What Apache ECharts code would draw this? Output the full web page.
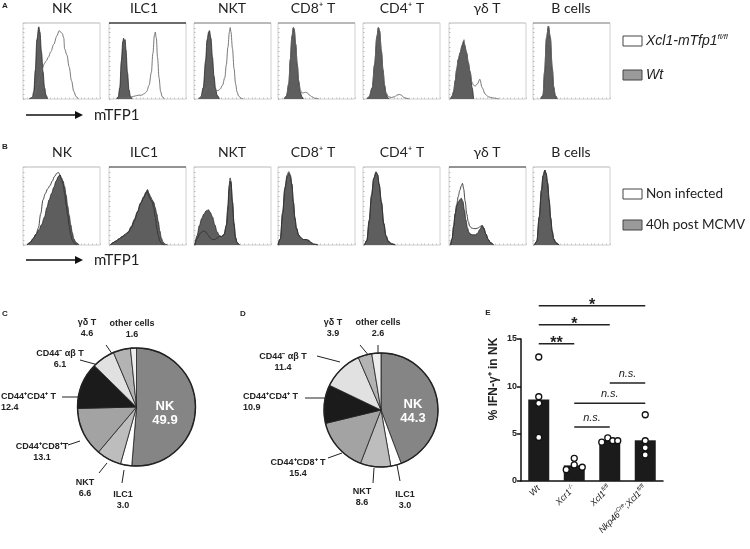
<!DOCTYPE html>
<html><head><meta charset="utf-8">
<script src="https://cdn.jsdelivr.net/npm/echarts@6/dist/echarts.min.js"></script>
<style>html,body{margin:0;padding:0;background:#fff}#c{width:750px;height:549px}</style>
</head><body><div id="c"></div>
<script>
// ---------------- DATA ----------------
const histTitles = ['NK', 'ILC1', 'NKT', 'CD8⁺ T', 'CD4⁺ T', 'γδ T', 'B cells'];

// Panel A : Wt (filled) and Xcl1-mTfp1 fl/fl (open); [mTFP1 %, % of max]
const aFillNK = [[8,0],[12,2],[14,10],[16,38],[18,78],[20.5,95],[22,88],[24,62],[26,36],[28,15],[30,5],[32,0]];
const aOpenNK = [[13,0],[16,6],[19,18],[22,30],[25,40],[28,47],[30,50],[33,55],[36,62],[40,72],[44,83],[47,90],[49,88],[51,86],[53,80],[54,66],[57,58],[60,42],[63,24],[66,10],[69,3],[72,0]];
const aFillILC1 = [[10,0],[12,3],[14,15],[16,50],[18,76],[19,80],[20,77],[21,78],[22,65],[24,35],[26,12],[28,3],[30,0]];
const aOpenILC1 = [[12,0],[16,1],[20,2],[26,2],[30,3],[34,4],[38,5],[42,5],[46,7],[49,10],[52,18],[55,35],[57,60],[59,84],[60,88],[61.5,80],[63,55],[65,28],[67,10],[69,3],[72,0]];
const aFillNKT = [[6,0],[9,3],[12,15],[15,50],[17,78],[19,88],[20,90],[22,80],[24,55],[26,30],[28,14],[30,5],[33,0]];
const aOpenNKT = [[7,0],[10,3],[13,8],[16,13],[19,17],[22,16],[25,13],[28,11],[31,11],[34,13],[37,18],[40,28],[42,45],[44,68],[46,88],[47,94],[48,88],[50,66],[52,40],[54,20],[56,9],[58,4],[61,1],[64,0]];
const aFillCD8 = [[8,0],[11,4],[14,20],[16,52],[18,82],[20,94],[21,92],[23,72],[25,45],[27,22],[29,9],[31,3],[33,0]];
const aOpenCD8 = [[8,0],[11,4],[14,20],[16,52],[18,82],[20,94],[21,92],[23,72],[25,46],[27,24],[29,12],[31,8],[33,8],[36,9],[38,8],[41,5],[44,3],[48,1],[53,0]];
const aFillCD4 = [[5,0],[8,3],[12,15],[15,45],[18,82],[20,94],[21.5,90],[24,62],[26,38],[28,18],[30,7],[32,2],[34,0]];
const aOpenCD4 = [[5,0],[8,3],[12,15],[15,45],[18,82],[20,94],[21.5,90],[24,62],[26,38],[28,18],[30,8],[33,3],[37,2],[41,3],[44,5],[47,6],[50,5],[53,2],[56,1],[60,0]];
const aFillGD = [[2,0],[4,4],[6,10],[8,24],[10,39],[12,52],[14.5,61],[17,70],[19,76],[20,72],[23,61],[25,48],[27.6,35],[30,15],[32,0]];
const aOpenGD = [[2,0],[4,4],[6,10],[8,24],[10,39],[12,52],[14.5,61],[17,71],[19.5,78],[21,67],[23,59],[25,48],[27,37],[30,22],[32,18],[34,17],[37,20],[40,26],[43,15],[47,6.5],[51,3],[56,1.5],[65,0]];
const aFillB = [[10,0],[13,5],[15,35],[17.5,80],[20,96],[22.5,80],[25,40],[27,15],[29,4],[31,0]];
const aOpenB = [[10,0],[13,5],[15,36],[17.5,80],[20,96],[22.5,82],[25,42],[27,16],[29,5],[32,0]];

// Panel B : 40h post MCMV (filled) and Non infected (open)
const bFillNK = [[5,0],[9,3],[13,8],[17,14],[21,20],[24,26],[28,36],[31,48],[34,58],[37,66],[40,74],[43,82],[46,88],[48,90],[50,86],[52,82],[54,75],[56,64],[58,50],[60,38],[62,26],[64,16],[66,8],[69,3],[73,0]];
const bOpenNK = [[5,0],[9,3],[13,8],[17,14],[20,22],[23,40],[26,58],[29,66],[32,72],[35,76],[38,82],[41,88],[44,92],[46,93],[48,90],[50,84],[52,78],[54,66],[56,52],[58,38],[60,24],[62,13],[64,6],[67,2],[70,0]];
const bFillILC1 = [[2,0],[5,3],[9,5],[13,8],[17,11],[21,13],[25,17],[29,24],[33,33],[37,43],[41,54],[45,62],[48,68],[50,71],[52,66],[54,62],[56,58],[58,55],[60,48],[62,40],[64,30],[66,18],[68,9],[70,4],[73,1],[76,0]];
const bOpenILC1 = [[2,0],[5,3],[9,5],[13,8],[17,10],[21,14],[25,16],[29,22],[33,31],[37,42],[41,53],[45,60],[48,66],[50,69],[52,62],[54,58],[56,55],[58,48],[60,36],[62,22],[64,12],[66,5],[69,1],[72,0]];
const bFillNKT = [[1,0],[4,12],[7,25],[10,34],[13,40],[16,44],[19,45],[21,42],[24,36],[27,26],[30,17],[33,12],[36,11],[39,14],[42,24],[44,45],[45.5,70],[47,82],[48,80],[50,55],[52,28],[54,10],[56,3],[59,0]];
const bOpenNKT = [[1,0],[4,8],[8,15],[12,18],[15,17],[18,13],[21,9],[24,7],[27,7],[30,9],[33,11],[36,11],[39,13],[42,26],[44,50],[45.5,76],[47,86],[48,82],[50,55],[52,26],[54,9],[56,3],[59,0]];
const bFillCD8 = [[0,0],[3,8],[6,40],[9,72],[12,88],[14,92],[16,88],[18,78],[20,55],[22,35],[24,22],[27,13],[30,9],[33,7],[37,7],[40,6],[43,3],[47,1],[52,0]];
const bOpenCD8 = [[0,0],[3,8],[6,42],[9,74],[12,90],[14,94],[16,90],[18,78],[20,55],[22,34],[24,21],[27,12],[30,9],[33,7],[37,7],[40,5],[43,3],[47,1],[52,0]];
const bFillCD4 = [[2,0],[5,6],[8,30],[11,62],[14,85],[17,93],[19,90],[21,78],[24,55],[27,28],[30,12],[33,5],[37,2],[42,0]];
const bOpenCD4 = [[2,0],[5,6],[8,32],[11,64],[14,86],[17,94],[19,90],[21,77],[24,54],[27,27],[30,11],[33,4],[37,1],[42,0]];
const bFillGD = [[2,0],[4,8],[6,24],[8,40],[10,50],[12,55],[14,58],[16,60],[18,56],[20,45],[22,32],[24,22],[26,16],[28,14],[31,13],[34,13],[37,15],[40,20],[43,25],[45,22],[48,14],[51,7],[54,3],[58,0]];
const bOpenGD = [[2,0],[4,8],[6,24],[8,40],[10,52],[12,62],[14,70],[16,76],[17.5,79],[19,72],[21,56],[23,40],[25,30],[27,24],[29,22],[32,21],[35,21],[38,22],[41,24],[43,25],[45,22],[48,14],[51,7],[54,3],[58,0]];
const bFillB = [[2,0],[5,5],[8,35],[11,70],[13,88],[15.5,96],[17,92],[19,80],[21,58],[23,35],[25,18],[27,8],[30,3],[34,0]];
const bOpenB = [[2,0],[5,5],[8,36],[11,71],[13,89],[15.5,96],[17,92],[19,79],[21,57],[23,34],[25,17],[27,7],[30,2],[34,0]];

// Panels C and D : pie charts (%)
const pieCats = ['NK', 'ILC1', 'NKT', 'CD44⁺CD8⁺T', 'CD44⁺CD4⁺ T', 'CD44⁻ αβ T', 'γδ T', 'other cells'];
const pieDCats = ['NK', 'ILC1', 'NKT', 'CD44⁺CD8⁺ T', 'CD44⁺CD4⁺ T', 'CD44⁻ αβ T', 'γδ T', 'other cells'];
const pieCValues = [49.9, 3.0, 6.6, 13.1, 12.4, 6.1, 4.6, 1.6];
const pieDValues = [44.3, 3.0, 8.6, 15.4, 10.9, 11.4, 3.9, 2.6];

// Panel E : % IFN-γ+ in NK
const eCats = ['Wt', 'Xcr1-/-', 'Xcl1fl/fl', 'Nkp46Cre;Xcl1fl/fl'];
const eCatLabels = ['{i|Wt}', '{i|Xcr1}{s|-/-}', '{i|Xcl1}{s|fl/fl}', '{i|Nkp46}{s|Cre}{i|;Xcl1}{s|fl/fl}'];
const eBars = [8.6, 1.65, 4.3, 4.3];
const ePtsWt = [13.1, 8.9, 8.2, 4.6];
const ePtsXcr1 = [1.2, 2.4, 1.7, 1.45];
const ePtsXcl1 = [4.1, 4.55, 4.25, 4.25];
const ePtsNkp = [7.0, 4.25, 3.5, 2.75];
const eTicks = [0, 5, 10, 15];
const brFrom = [0, 0, 0, 1, 1, 2];
const brTo = [1, 2, 3, 2, 3, 3];
const brY = [14.5, 16.5, 18.5, 5.7, 8.2, 10.35];
const brText = ['**', '*', '*', 'n.s.', 'n.s.', 'n.s.'];

// ---------------- LAYOUT / STYLE ----------------
const aFilled = [aFillNK, aFillILC1, aFillNKT, aFillCD8, aFillCD4, aFillGD, aFillB];
const aOpen = [aOpenNK, aOpenILC1, aOpenNKT, aOpenCD8, aOpenCD4, aOpenGD, aOpenB];
const bFilled = [bFillNK, bFillILC1, bFillNKT, bFillCD8, bFillCD4, bFillGD, bFillB];
const bOpen = [bOpenNK, bOpenILC1, bOpenNKT, bOpenCD8, bOpenCD4, bOpenGD, bOpenB];
const HX = [23, 109, 194, 278, 363, 449, 533], HW = 77;
const rowTop = [23, 167], rowH = [76, 78];
const titleX = [62, 144, 232, 313, 402, 487, 571];
const titleY = [8, 152];
const topCol = [['#d0d0d0','#444','#aaa','#aaa','#d0d0d0','#d0d0d0','#aaa'],
                ['#d0d0d0','#777','#d0d0d0','#d0d0d0','#d0d0d0','#777','#d0d0d0']];
const SANS = 'Liberation Sans, Arial, sans-serif';
const CAL = 'Lato, Carlito, sans-serif';

const grid = [], xAxis = [], yAxis = [], series = [], graphic = [];
[[aFilled, aOpen], [bFilled, bOpen]].forEach((pair, r) => {
  for (let i = 0; i < 7; i++) {
    const g = grid.length;
    grid.push({left: HX[i], top: rowTop[r], width: HW, height: rowH[r], show: true,
      borderColor: '#d0d0d0', borderWidth: 1, backgroundColor: '#fff'});
    xAxis.push({gridIndex: g, type: 'value', min: 0, max: 100, interval: 5,
      axisLine: {show: false}, axisLabel: {show: false}, splitLine: {show: false},
      axisTick: {show: true, inside: true, length: 1.5, lineStyle: {color: '#aaa', width: 0.6}}});
    yAxis.push({gridIndex: g, type: 'value', min: 0, max: 100, interval: 6.25,
      axisLine: {show: false}, axisLabel: {show: false}, splitLine: {show: false},
      axisTick: {show: true, inside: true, length: 1.5, lineStyle: {color: '#999', width: 0.6}}});
    series.push({type: 'line', xAxisIndex: g, yAxisIndex: g, data: pair[0][i], smooth: 0.35,
      smoothMonotone: 'x', symbol: 'none', silent: true, z: 2,
      lineStyle: {color: '#2a2a2a', width: 0.8}, areaStyle: {color: '#5e5e5e', opacity: 1}});
    series.push({type: 'line', xAxisIndex: g, yAxisIndex: g, data: pair[1][i], smooth: 0.35,
      smoothMonotone: 'x', symbol: 'none', silent: true, z: 3,
      lineStyle: {color: r === 0 ? '#6a6a6a' : '#333', width: 0.9}});
    graphic.push({type: 'line', z: 50, shape: {x1: HX[i], y1: rowTop[r], x2: HX[i] + HW, y2: rowTop[r]},
      style: {stroke: topCol[r][i], lineWidth: topCol[r][i] === '#d0d0d0' ? 1 : 1.6}});
    graphic.push({type: 'text', x: titleX[i], y: titleY[r],
      style: {text: histTitles[i], align: 'center', verticalAlign: 'middle',
        font: '14px ' + CAL, fill: '#222'}});
  }
});

// Panel E main grid (14) and bracket overlay grid (15)
grid.push({left: 521, top: 339, width: 142, height: 142});
xAxis.push({gridIndex: 14, type: 'category', data: eCats,
  axisLine: {lineStyle: {color: '#111', width: 1.5}},
  axisTick: {alignWithLabel: true, length: 4, lineStyle: {color: '#111', width: 1.5}},
  axisLabel: {rotate: 45, margin: 6, interval: 0, color: '#222',
    formatter: (v, idx) => eCatLabels[idx],
    rich: {i: {fontFamily: SANS, fontStyle: 'italic', fontSize: 9, lineHeight: 12, color: '#222'},
           s: {fontFamily: SANS, fontStyle: 'italic', fontSize: 6, verticalAlign: 'top', color: '#222'}}}});
yAxis.push({gridIndex: 14, type: 'value', min: eTicks[0], max: eTicks[eTicks.length - 1], interval: 5,
  axisLine: {show: true, lineStyle: {color: '#111', width: 1.5}},
  axisTick: {show: true, length: 4, lineStyle: {color: '#111', width: 1.5}},
  splitLine: {show: false},
  axisLabel: {fontFamily: SANS, fontSize: 9, fontWeight: 'bold', color: '#222', margin: 4}});
const ovH = 20 * 142 / 15;
grid.push({left: 521, top: 481 - ovH, width: 142, height: ovH});
xAxis.push({gridIndex: 15, type: 'category', data: eCats, show: false});
yAxis.push({gridIndex: 15, type: 'value', min: 0, max: 20, show: false});

series.push({type: 'bar', xAxisIndex: 14, yAxisIndex: 14, data: eBars, barWidth: 21,
  itemStyle: {color: '#1b1b1b'}, silent: true, z: 2});
const ePts = [ePtsWt, ePtsXcr1, ePtsXcl1, ePtsNkp];
const eJit = [[0, 0, 0, 0], [-8, 0, 0, 8], [-8, -2, 3, 8], [0, 0, 0, 0]];
const scatterData = [];
ePts.forEach((arr, ci) => arr.forEach((v, k) => scatterData.push({value: [ci, v], symbolOffset: [eJit[ci][k], 0]})));
series.push({type: 'scatter', xAxisIndex: 14, yAxisIndex: 14, data: scatterData, symbol: 'circle',
  symbolSize: 6, itemStyle: {color: '#fff', borderColor: '#111', borderWidth: 1.3, opacity: 1}, silent: true, z: 5});
series.push({type: 'custom', xAxisIndex: 15, yAxisIndex: 15, silent: true, z: 6,
  data: brFrom.map((f, i) => [f, brTo[i], brY[i], i]),
  encode: {x: [0, 1], y: 2},
  renderItem: (params, api) => {
    const p1 = api.coord([api.value(0), api.value(2)]);
    const p2 = api.coord([api.value(1), api.value(2)]);
    const t = brText[api.value(3)];
    const star = t !== 'n.s.';
    return {type: 'group', children: [
      {type: 'line', shape: {x1: p1[0], y1: p1[1], x2: p2[0], y2: p2[1]}, style: {stroke: '#222', lineWidth: 1.5}},
      {type: 'text', x: (p1[0] + p2[0]) / 2, y: p1[1] + (star ? 8 : -4),
        style: {text: t, align: 'center', verticalAlign: 'bottom',
          font: star ? 'bold 16px ' + SANS : 'italic 11px ' + SANS, fill: '#222'}}
    ]};
  }});

// Pies
const pieColors = ['#858585', '#ffffff', '#bdbdbd', '#a3a3a3', '#1b1b1b', '#e1e1e1', '#b3b3b3', '#ededed'];
const pieCLayout = [
  [165, 413, 'center'],
  [123, 500, 'center', [[122, 483], [124, 470]]],
  [85, 488, 'center', [[99, 473], [107, 463]]],
  [42, 452, 'center', [[68, 445], [80, 441]]],
  [1, 402, 'left', [[62, 397], [80, 397]]],
  [60, 359, 'center', [[80, 360], [102, 366]]],
  [87, 328, 'center', [[106, 345], [115, 358]]],
  [132, 329, 'center', [[132, 347], [132, 357]]]
];
const pieDLayout = [
  [413, 411, 'center'],
  [405, 500, 'center', [[400, 481], [397, 465]]],
  [362, 497, 'center', [[373, 483], [374, 468]]],
  [298, 468, 'center', [[328, 458], [342, 453]]],
  [243, 402, 'left', [[305, 398], [325, 398]]],
  [283, 362, 'center', [[317, 356], [340, 362]]],
  [333, 328, 'center', [[360, 345], [370, 357]]],
  [378, 328, 'center', [[378, 345], [378, 355]]]
];
function pieSeries(cats, vals, center, radius, layout) {
  return {type: 'pie', center: center, radius: radius, startAngle: 90, clockwise: true,
    avoidLabelOverlap: false, silent: true, z: 4,
    itemStyle: {borderColor: '#222', borderWidth: 0.8},
    label: {show: true, position: 'outside', fontFamily: SANS, fontSize: 9, fontWeight: 'bold',
      color: '#222', lineHeight: 11, formatter: p => p.name + '\n' + p.value.toFixed(1)},
    labelLine: {show: true, length: 6, length2: 6, lineStyle: {color: '#222', width: 1}},
    labelLayout: params => {
      const L = layout[params.dataIndex];
      const o = {x: L[0], y: L[1], align: L[2], verticalAlign: 'middle'};
      if (L[3]) o.labelLinePoints = L[3];
      return o;
    },
    data: cats.map((c, i) => {
      const d = {name: c, value: vals[i], itemStyle: {color: pieColors[i]}};
      if (i === 0) {
        d.label = {position: 'inside', color: '#fff', fontSize: 13, lineHeight: 14, fontWeight: 'bold'};
        d.labelLine = {show: false};
      }
      return d;
    })};
}
series.push(pieSeries(pieCats, pieCValues, [136.5, 407], 59, pieCLayout));
series.push(pieSeries(pieDCats, pieDValues, [381, 410], 57, pieDLayout));
// outer rims
graphic.push({type: 'circle', z: 60, silent: true, shape: {cx: 136.5, cy: 407, r: 59}, style: {fill: 'none', stroke: '#222', lineWidth: 1.4}});
graphic.push({type: 'circle', z: 60, silent: true, shape: {cx: 381, cy: 410, r: 57}, style: {fill: 'none', stroke: '#222', lineWidth: 1.4}});

// Panel letters
[['A', 5, 6], ['B', 5, 147], ['C', 5, 314], ['D', 243, 314], ['E', 488, 313]].forEach(l =>
  graphic.push({type: 'text', x: l[1], y: l[2], style: {text: l[0], align: 'center', verticalAlign: 'middle',
    font: 'bold 8px ' + SANS, fill: '#222'}}));

// Arrows and axis captions
[115, 260].forEach(y => {
  graphic.push({type: 'line', shape: {x1: 26, y1: y, x2: 76, y2: y}, style: {stroke: '#111', lineWidth: 1.4}});
  graphic.push({type: 'polygon', shape: {points: [[75, y - 4], [83, y], [75, y + 4]]}, style: {fill: '#111'}});
  graphic.push({type: 'text', x: 94, y: y, style: {text: 'mTFP1', verticalAlign: 'middle', font: '15px ' + CAL, fill: '#222'}});
});

// Legends
function legendBox(y, fill) {
  graphic.push({type: 'rect', shape: {x: 623, y: y - 5, width: 19, height: 10}, style: {fill: fill, stroke: '#444', lineWidth: 1}});
}
legendBox(41, '#fff'); legendBox(75, '#9a9a9a');
graphic.push({type: 'text', x: 646, y: 41, style: {text: '{i|Xcl1-mTfp1}{s|fl/fl}', verticalAlign: 'middle',
  rich: {i: {fontFamily: SANS, fontStyle: 'italic', fontSize: 14, lineHeight: 16, fill: '#222'},
         s: {fontFamily: SANS, fontStyle: 'italic', fontSize: 8, verticalAlign: 'top', fill: '#222'}}}});
graphic.push({type: 'text', x: 646, y: 75, style: {text: 'Wt', verticalAlign: 'middle',
  font: 'italic 14px ' + SANS, fill: '#222'}});
legendBox(194, '#fff'); legendBox(225, '#9a9a9a');
graphic.push({type: 'text', x: 646, y: 194, style: {text: 'Non infected', verticalAlign: 'middle', font: '13.5px ' + CAL, fill: '#222'}});
graphic.push({type: 'text', x: 646, y: 225, style: {text: '40h post MCMV', verticalAlign: 'middle', font: '13.5px ' + CAL, fill: '#222'}});

// E y-axis title
graphic.push({type: 'text', x: 494, y: 379, rotation: Math.PI / 2,
  style: {text: '% IFN-γ⁺ in NK', align: 'center', verticalAlign: 'middle', font: 'bold 12px ' + SANS, fill: '#222'}});

const chart = echarts.init(document.getElementById('c'), null, {renderer: 'canvas'});
chart.setOption({
  animation: false, backgroundColor: '#fff',
  textStyle: {fontFamily: SANS},
  grid, xAxis, yAxis, series, graphic
});
</script></body></html>
